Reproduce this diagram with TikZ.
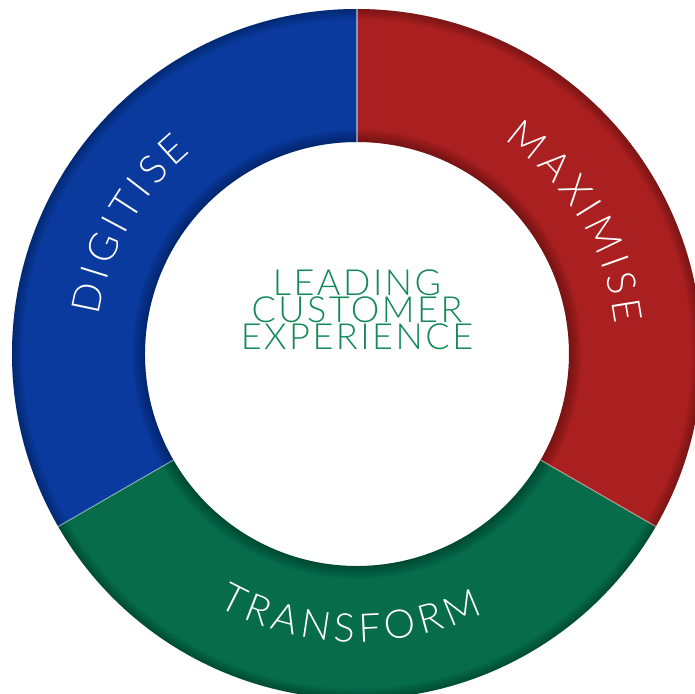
\documentclass[tikz,border=0pt]{standalone}
\usepackage{fontspec}
\setmainfont{Lato Light}
\newfontfamily\corefont{Lato Light}[LetterSpace=7]
\usetikzlibrary{decorations.text}
\definecolor{ringblue}{HTML}{0A3A9E}
\definecolor{ringred}{HTML}{AA2020}
\definecolor{ringgreen}{HTML}{066C4A}
\definecolor{coregreen}{HTML}{128956}
\begin{document}
\begin{tikzpicture}[
    ringtext/.style={decorate, decoration={text effects along path, text={#1}, text align=center,
      text effects/.cd, text along path,
      every character/.style={white, font=\fontsize{22.5}{22}\selectfont, inner xsep=1.4pt}}},
    divider/.style={white, opacity=0.45, line width=0.6pt}
  ]
  \useasboundingbox (-7.14,-6.8) rectangle (6.76,7.08);
  \def\Rout{6.9}
  \def\Rin{4.24}
  % the three sectors of the ring
  \fill[ringblue] (90:\Rout) arc (90:210:\Rout) -- (210:\Rin) arc (210:90:\Rin) -- cycle;
  \fill[ringgreen] (210:\Rout) arc (210:330:\Rout) -- (330:\Rin) arc (330:210:\Rin) -- cycle;
  \fill[ringred] (330:\Rout) arc (330:450:\Rout) -- (90:\Rin) arc (90:-30:\Rin) -- cycle;
  % soft shadow at the rims
  \begin{scope}[even odd rule]
    \clip (0,0) circle (\Rout) (0,0) circle (\Rin);
    \foreach \k in {1,...,8} {
      \draw[black, opacity=0.04, line width=\k*1.8pt] (0,0) circle (\Rin);
      \draw[black, opacity=0.035, line width=\k*1.5pt] (0,0) circle (\Rout);
    }
  \end{scope}
  \coordinate (top in) at (90:\Rin);   \coordinate (top out) at (90:\Rout);
  \coordinate (left in) at (210:\Rin); \coordinate (left out) at (210:\Rout);
  \coordinate (right in) at (330:\Rin); \coordinate (right out) at (330:\Rout);
  \draw[divider] (top in) -- (top out);
  \draw[divider] (left in) -- (left out);
  \draw[divider] (right in) -- (right out);
  % labels on the ring
  \path[ringtext=DIGITISE] (179:5.22) arc (179:122:5.22);
  \path[ringtext=MAXIMISE] (60:5.2) arc (60:2:5.2);
  \path[ringtext=TRANSFORM] (233:5.76) arc (233:304:5.76);
  % centre
  \node[align=center, coregreen, font=\corefont\fontsize{20.5}{15.4}\selectfont] (core) at (0,0.88) {LEADING\\CUSTOMER\\EXPERIENCE};
\end{tikzpicture}
\end{document}
